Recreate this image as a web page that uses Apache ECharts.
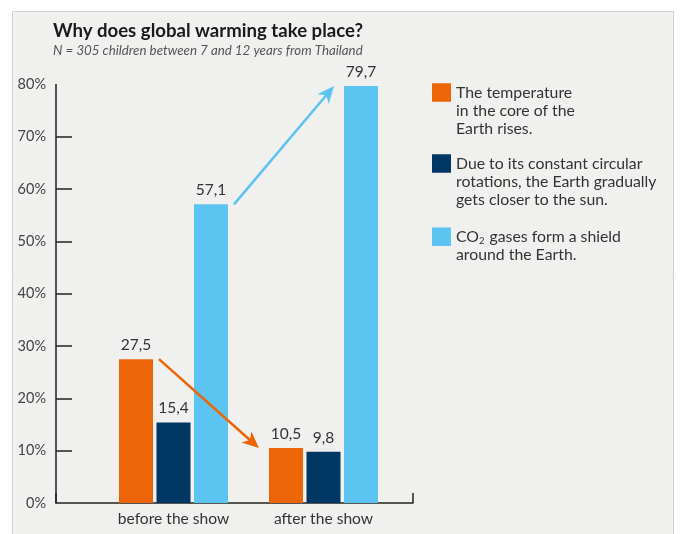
<!DOCTYPE html>
<html>
<head>
<meta charset="utf-8">
<script src="https://cdn.jsdelivr.net/npm/echarts@6/dist/echarts.min.js"></script>
<style>
  html, body { margin: 0; padding: 0; background: #ffffff; }
  #chart { width: 682px; height: 534px; }
</style>
</head>
<body>
<div id="chart"></div>
<script>
// Survey answers (% of children) before and after the show
const categories = ['before the show', 'after the show'];
const tempCore = [27.5, 10.5];     // "The temperature in the core of the Earth rises."
const earthCloser = [15.4, 9.8];   // "Due to its constant circular rotations ..."
const co2Shield = [57.1, 79.7];    // "CO2 gases form a shield around the Earth."
const yTicks = [0, 10, 20, 30, 40, 50, 60, 70, 80];

const seriesNames = [
  'The temperature\nin the core of the\nEarth rises.',
  'Due to its constant circular\nrotations, the Earth gradually\ngets closer to the sun.',
  'CO2 gases form a shield\naround the Earth.'
];
const seriesColors = ['#EC6608', '#003764', '#5BC4F1'];

const FONT = 'Lato';
const BAR_W = 34;
const BAR_GAP = 3.5;
const LINE_H = 18.3;
const LEG_FS = 15.8;

const chart = echarts.init(document.getElementById('chart'), null, { renderer: 'canvas' });

const fmtComma = v => String(v).replace('.', ',');

// Arrow from one bar (category a) to the same series' bar in category b
function renderArrow(params, api) {
  const fromCat = api.value(0), fromVal = api.value(1);
  const toCat = api.value(2), toVal = api.value(3);
  const s = api.value(4);
  const offset = (s - 1) * (BAR_W + BAR_GAP);
  const p0 = api.coord([fromCat, fromVal]);
  const p1 = api.coord([toCat, toVal]);
  const x0 = p0[0] + offset + BAR_W / 2 + 6;
  const y0 = p0[1];
  const x1 = p1[0] + offset - BAR_W / 2 - 10;
  const y1 = p1[1];
  const ang = Math.atan2(y1 - y0, x1 - x0);
  const color = seriesColors[s];
  const L = 17, W = 7.5, N = 12;
  const rot = (dx, dy) => [x1 + dx * Math.cos(ang) - dy * Math.sin(ang),
                           y1 + dx * Math.sin(ang) + dy * Math.cos(ang)];
  const lineEnd = rot(-N + 1, 0);
  return {
    type: 'group',
    children: [
      { type: 'line', shape: { x1: x0, y1: y0, x2: lineEnd[0], y2: lineEnd[1] },
        style: { stroke: color, lineWidth: 2.6 } },
      { type: 'polygon', shape: { points: [rot(0, 0), rot(-L, -W), rot(-N, 0), rot(-L, W)] },
        style: { fill: color } }
    ]
  };
}

function legendFor(i, top, lines) {
  return {
    show: true,
    left: 432,
    top: top,
    padding: 0,
    orient: 'vertical',
    itemWidth: 19,
    itemHeight: 18.5,
    itemGap: 0,
    icon: 'rect',
    selectedMode: false,
    data: [{
      name: seriesNames[i],
      textStyle: { padding: [(lines - 1) * LINE_H, 0, 0, 0] }
    }],
    formatter: name => {
      if (i === 2) {
        return '{t|CO}{sub|2}{t| gases form a shield}\n{t|around the Earth.}';
      }
      return name;
    },
    textStyle: {
      fontFamily: FONT,
      fontSize: LEG_FS,
      color: '#333',
      lineHeight: LINE_H,
      rich: {
        t: { fontFamily: FONT, fontSize: LEG_FS, color: '#333', lineHeight: LINE_H },
        sub: { fontFamily: FONT, fontSize: 9.5, color: '#333', lineHeight: LINE_H, padding: [8, 1, 0, 0] }
      }
    }
  };
}

const option = {
  backgroundColor: '#ffffff',
  animation: false,
  textStyle: { fontFamily: FONT },
  graphic: [{
    type: 'rect',
    z: -100,
    silent: true,
    shape: { x: 12.5, y: 11.5, width: 661, height: 560 },
    style: { fill: '#F0F0EF', stroke: '#C9D1D9', lineWidth: 1 }
  }],
  title: {
    text: 'Why does global warming take place?',
    subtext: 'N = 305 children between 7 and 12 years from Thailand',
    left: 53,
    top: 21,
    padding: 0,
    itemGap: 4,
    textStyle: { fontFamily: FONT, fontSize: 18.6, fontWeight: 'bold', color: '#1a1a1a' },
    subtextStyle: { fontFamily: FONT, fontSize: 13.3, fontStyle: 'italic', color: '#555' }
  },
  legend: [
    legendFor(0, 92.5 - (3 * LINE_H + 2 * LINE_H) / 2, 3),
    legendFor(1, 163.5 - (3 * LINE_H + 2 * LINE_H) / 2, 3),
    legendFor(2, 236.7 - (2 * LINE_H + LINE_H) / 2, 2)
  ],
  grid: [
    { left: 98.5, top: 84.5, width: 300, height: 418.5 },
    { left: 56, top: 84.5, width: 357, height: 418.5 }
  ],
  xAxis: [
    {
      type: 'category',
      gridIndex: 0,
      data: categories,
      axisLine: { show: false },
      axisTick: { show: false },
      axisLabel: { fontFamily: FONT, fontSize: 15.6, color: '#333', margin: 8 }
    },
    {
      type: 'category',
      gridIndex: 1,
      data: [''],
      boundaryGap: true,
      axisLine: { show: true, lineStyle: { color: '#222', width: 1.5 } },
      axisTick: { show: true, inside: true, length: 10, lineStyle: { color: '#222', width: 1.5 } },
      axisLabel: { show: false },
      splitLine: { show: false }
    }
  ],
  yAxis: [
    {
      type: 'value',
      gridIndex: 0,
      min: yTicks[0],
      max: yTicks[yTicks.length - 1],
      interval: 10,
      offset: 42.5,
      axisLine: { show: true, lineStyle: { color: '#222', width: 1.5 } },
      axisTick: { show: true, inside: true, length: 16, customValues: yTicks.slice(1, -1),
                  lineStyle: { color: '#222', width: 1.5 } },
      axisLabel: { fontFamily: FONT, fontSize: 14.5, color: '#444', margin: 10,
                   customValues: yTicks, formatter: v => v + '%' },
      splitLine: { show: false }
    },
    {
      type: 'value',
      gridIndex: 1,
      min: 0,
      max: 80,
      show: false
    }
  ],
  series: [
    { name: seriesNames[0], data: tempCore, color: seriesColors[0] },
    { name: seriesNames[1], data: earthCloser, color: seriesColors[1] },
    { name: seriesNames[2], data: co2Shield, color: seriesColors[2] }
  ].map(s => ({
    type: 'bar',
    name: s.name,
    data: s.data,
    xAxisIndex: 0,
    yAxisIndex: 0,
    barWidth: BAR_W,
    barGap: (BAR_GAP / BAR_W * 100).toFixed(1) + '%',
    itemStyle: { color: s.color },
    label: {
      show: true,
      position: 'top',
      distance: 6,
      fontFamily: FONT,
      fontSize: 15.5,
      color: '#333',
      formatter: p => fmtComma(p.value)
    }
  })).concat([{
    type: 'custom',
    xAxisIndex: 0,
    yAxisIndex: 0,
    clip: false,
    z: 5,
    silent: true,
    renderItem: renderArrow,
    data: [
      [0, tempCore[0], 1, tempCore[1], 0],
      [0, co2Shield[0], 1, co2Shield[1], 2]
    ]
  }])
};

chart.setOption(option);
</script>
</body>
</html>
